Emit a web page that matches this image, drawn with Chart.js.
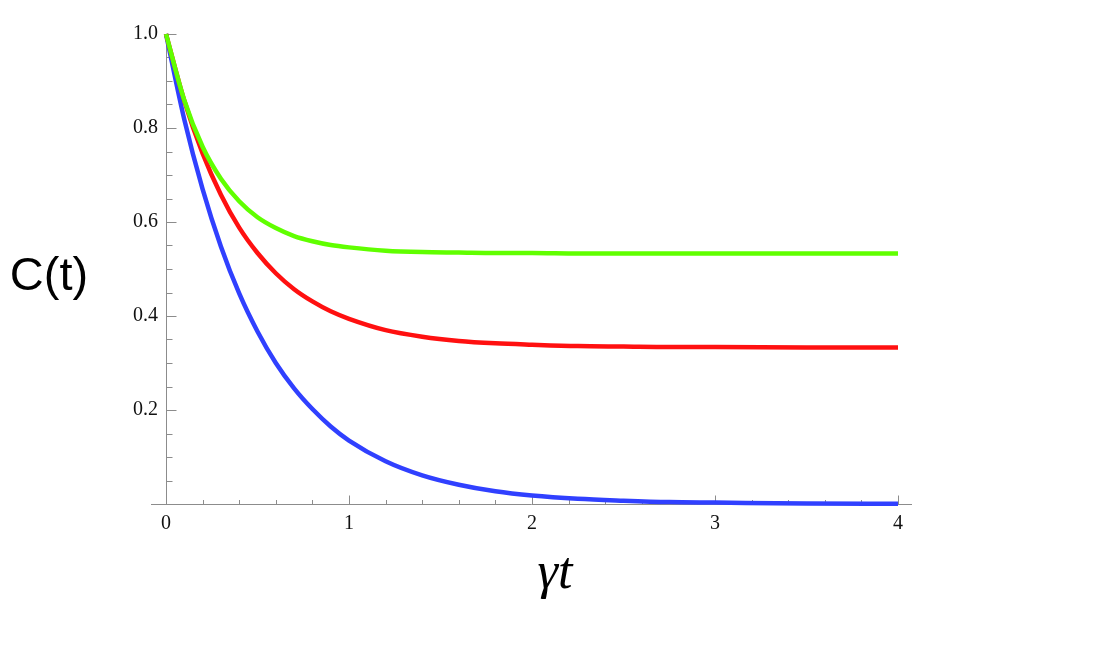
<!DOCTYPE html>
<html>
<head>
<meta charset="utf-8">
<script src="https://cdn.jsdelivr.net/npm/chart.js@4/dist/chart.umd.min.js"></script>
<style>
  html, body { margin: 0; padding: 0; background: #fff; }
  #wrap { width: 1110px; height: 645px; }
</style>
</head>
<body>
<div id="wrap"><canvas id="chart"></canvas></div>
<script>
// values
const gammaT = [0, 0.1, 0.2, 0.3, 0.4, 0.5, 0.6, 0.7, 0.8, 0.9, 1.0, 1.2, 1.4, 1.6, 1.8, 2.0, 2.25, 2.5, 2.75, 3.0, 3.5, 4.0];
const blueC  = [1.0, 0.818, 0.67, 0.548, 0.448, 0.367, 0.3, 0.246, 0.202, 0.165, 0.135, 0.091, 0.061, 0.041, 0.027, 0.018, 0.011, 0.007, 0.004, 0.003, 0.001, 0.0005];
const redC   = [1.0, 0.858, 0.746, 0.658, 0.588, 0.534, 0.491, 0.457, 0.431, 0.41, 0.394, 0.37, 0.356, 0.347, 0.342, 0.339, 0.336, 0.335, 0.334, 0.334, 0.333, 0.333];
const greenC = [1.0, 0.859, 0.76, 0.692, 0.644, 0.61, 0.587, 0.57, 0.559, 0.551, 0.546, 0.539, 0.536, 0.535, 0.534, 0.534, 0.533, 0.533, 0.533, 0.533, 0.533, 0.533];

const xTicks = [0, 1, 2, 3, 4];
const yTicks = [0.2, 0.4, 0.6, 0.8, 1.0];
const xMinorStep = 0.2;
const yMinorStep = 0.05;

const pts = arr => gammaT.map((t, i) => ({ x: t, y: arr[i] }));

// Mathematica-style frame: axes crossing at origin, ticks pointing inward
const axesPlugin = {
  id: "axes",
  beforeDatasetsDraw(chart) {
    const { ctx, chartArea: a, scales: { x, y } } = chart;
    const x0 = Math.round(x.getPixelForValue(0)) + 0.5;
    const y0 = Math.round(y.getPixelForValue(0)) + 0.5;
    ctx.save();
    ctx.strokeStyle = "#8c8c8c";
    ctx.lineWidth = 1;
    ctx.beginPath();
    ctx.moveTo(a.left - 15, y0);
    ctx.lineTo(a.right + 14, y0);
    ctx.moveTo(x0, y0);
    ctx.lineTo(x0, Math.round(y.getPixelForValue(1)));
    for (let i = 0; i * xMinorStep <= 4.001; i++) {
      const px = Math.round(x.getPixelForValue(i * xMinorStep)) + 0.5;
      const len = i % 5 === 0 ? 9 : 4.5;
      ctx.moveTo(px, y0);
      ctx.lineTo(px, y0 - len);
    }
    for (let i = 1; i * yMinorStep <= 1.001; i++) {
      const py = Math.round(y.getPixelForValue(i * yMinorStep)) + 0.5;
      const len = i % 4 === 0 ? 10 : 6;
      ctx.moveTo(x0, py);
      ctx.lineTo(x0 + len, py);
    }
    ctx.stroke();
    ctx.restore();
  },
  afterDraw(chart) {
    const { ctx } = chart;
    ctx.save();
    ctx.fillStyle = "#000";
    ctx.textAlign = "center";
    ctx.textBaseline = "middle";
    ctx.font = '47px "Liberation Sans"';
    ctx.fillText("C(t)", 49, 277);
    ctx.font = 'italic 52px "Liberation Serif"';
    ctx.fillText("\u03B3t", 555, 574);
    ctx.restore();
  }
};

const line = (data, color) => ({
  data: pts(data),
  borderColor: color,
  borderWidth: 4.5,
  pointRadius: 0,
  fill: false,
  cubicInterpolationMode: "monotone",
  clip: false
});

new Chart(document.getElementById("chart"), {
  type: "line",
  data: {
    datasets: [
      line(greenC, "rgb(96,255,0)"),
      line(redC, "rgb(255,16,16)"),
      line(blueC, "rgb(48,64,255)")
    ]
  },
  options: {
    responsive: true,
    maintainAspectRatio: false,
    animation: false,
    layout: { padding: { left: 0, right: 212, top: 34, bottom: 0 } },
    plugins: { legend: { display: false }, tooltip: { enabled: false } },
    scales: {
      x: {
        type: "linear",
        min: 0,
        max: 4,
        grid: { display: false, drawTicks: false },
        border: { display: false },
        afterBuildTicks: s => { s.ticks = xTicks.map(v => ({ value: v })); },
        afterFit: s => { s.height = 141; },
        ticks: {
          padding: 8,
          color: "#111",
          maxRotation: 0,
          font: { family: "Liberation Serif", size: 20 }
        }
      },
      y: {
        min: 0,
        max: 1,
        grid: { display: false, drawTicks: false },
        border: { display: false },
        afterBuildTicks: s => { s.ticks = yTicks.map(v => ({ value: v })); },
        afterFit: s => { s.width = 166; },
        ticks: {
          padding: 8,
          color: "#111",
          callback: v => v.toFixed(1),
          font: { family: "Liberation Serif", size: 20 }
        }
      }
    }
  },
  plugins: [axesPlugin]
});
</script>
</body>
</html>
